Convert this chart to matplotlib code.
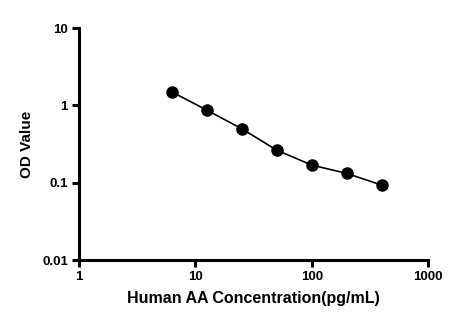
import matplotlib.pyplot as plt
from matplotlib.ticker import FixedLocator, NullLocator, FixedFormatter

# standard curve data
conc = [6.25, 12.5, 25, 50, 100, 200, 400]
od = [1.50, 0.87, 0.50, 0.264, 0.169, 0.132, 0.093]

x_ticks = [1, 10, 100, 1000]
x_labels = ['1', '10', '100', '1000']
y_ticks = [0.01, 0.1, 1, 10]
y_labels = ['0.01', '0.1', '1', '10']

plt.rcParams['font.family'] = ['Liberation Sans', 'DejaVu Sans']
plt.rcParams['font.weight'] = 'bold'

fig = plt.figure(figsize=(4.73, 3.30), dpi=100)
ax = fig.add_axes([0.167, 0.212, 0.738, 0.703])

ax.plot(conc, od, color='black', lw=1.2, marker='o', ms=8, zorder=3, clip_on=False)

ax.set_xscale('log')
ax.set_yscale('log')
ax.set_xlim(1, 1000)
ax.set_ylim(0.01, 10)

ax.xaxis.set_major_locator(FixedLocator(x_ticks))
ax.xaxis.set_major_formatter(FixedFormatter(x_labels))
ax.xaxis.set_minor_locator(NullLocator())
ax.yaxis.set_major_locator(FixedLocator(y_ticks))
ax.yaxis.set_major_formatter(FixedFormatter(y_labels))
ax.yaxis.set_minor_locator(NullLocator())

for side in ['top', 'right']:
    ax.spines[side].set_visible(False)
for side in ['left', 'bottom']:
    ax.spines[side].set_linewidth(2.2)

ax.tick_params(axis='both', direction='out', length=5, width=2.2, labelsize=9.5, pad=3)
for lab in ax.get_xticklabels() + ax.get_yticklabels():
    lab.set_fontweight('bold')

ax.set_xlabel('Human AA Concentration(pg/mL)', fontsize=11.5, fontweight='bold', labelpad=6)
ax.set_ylabel('OD Value', fontsize=11, fontweight='bold', labelpad=6)

fig.savefig('out.png', dpi=100)
